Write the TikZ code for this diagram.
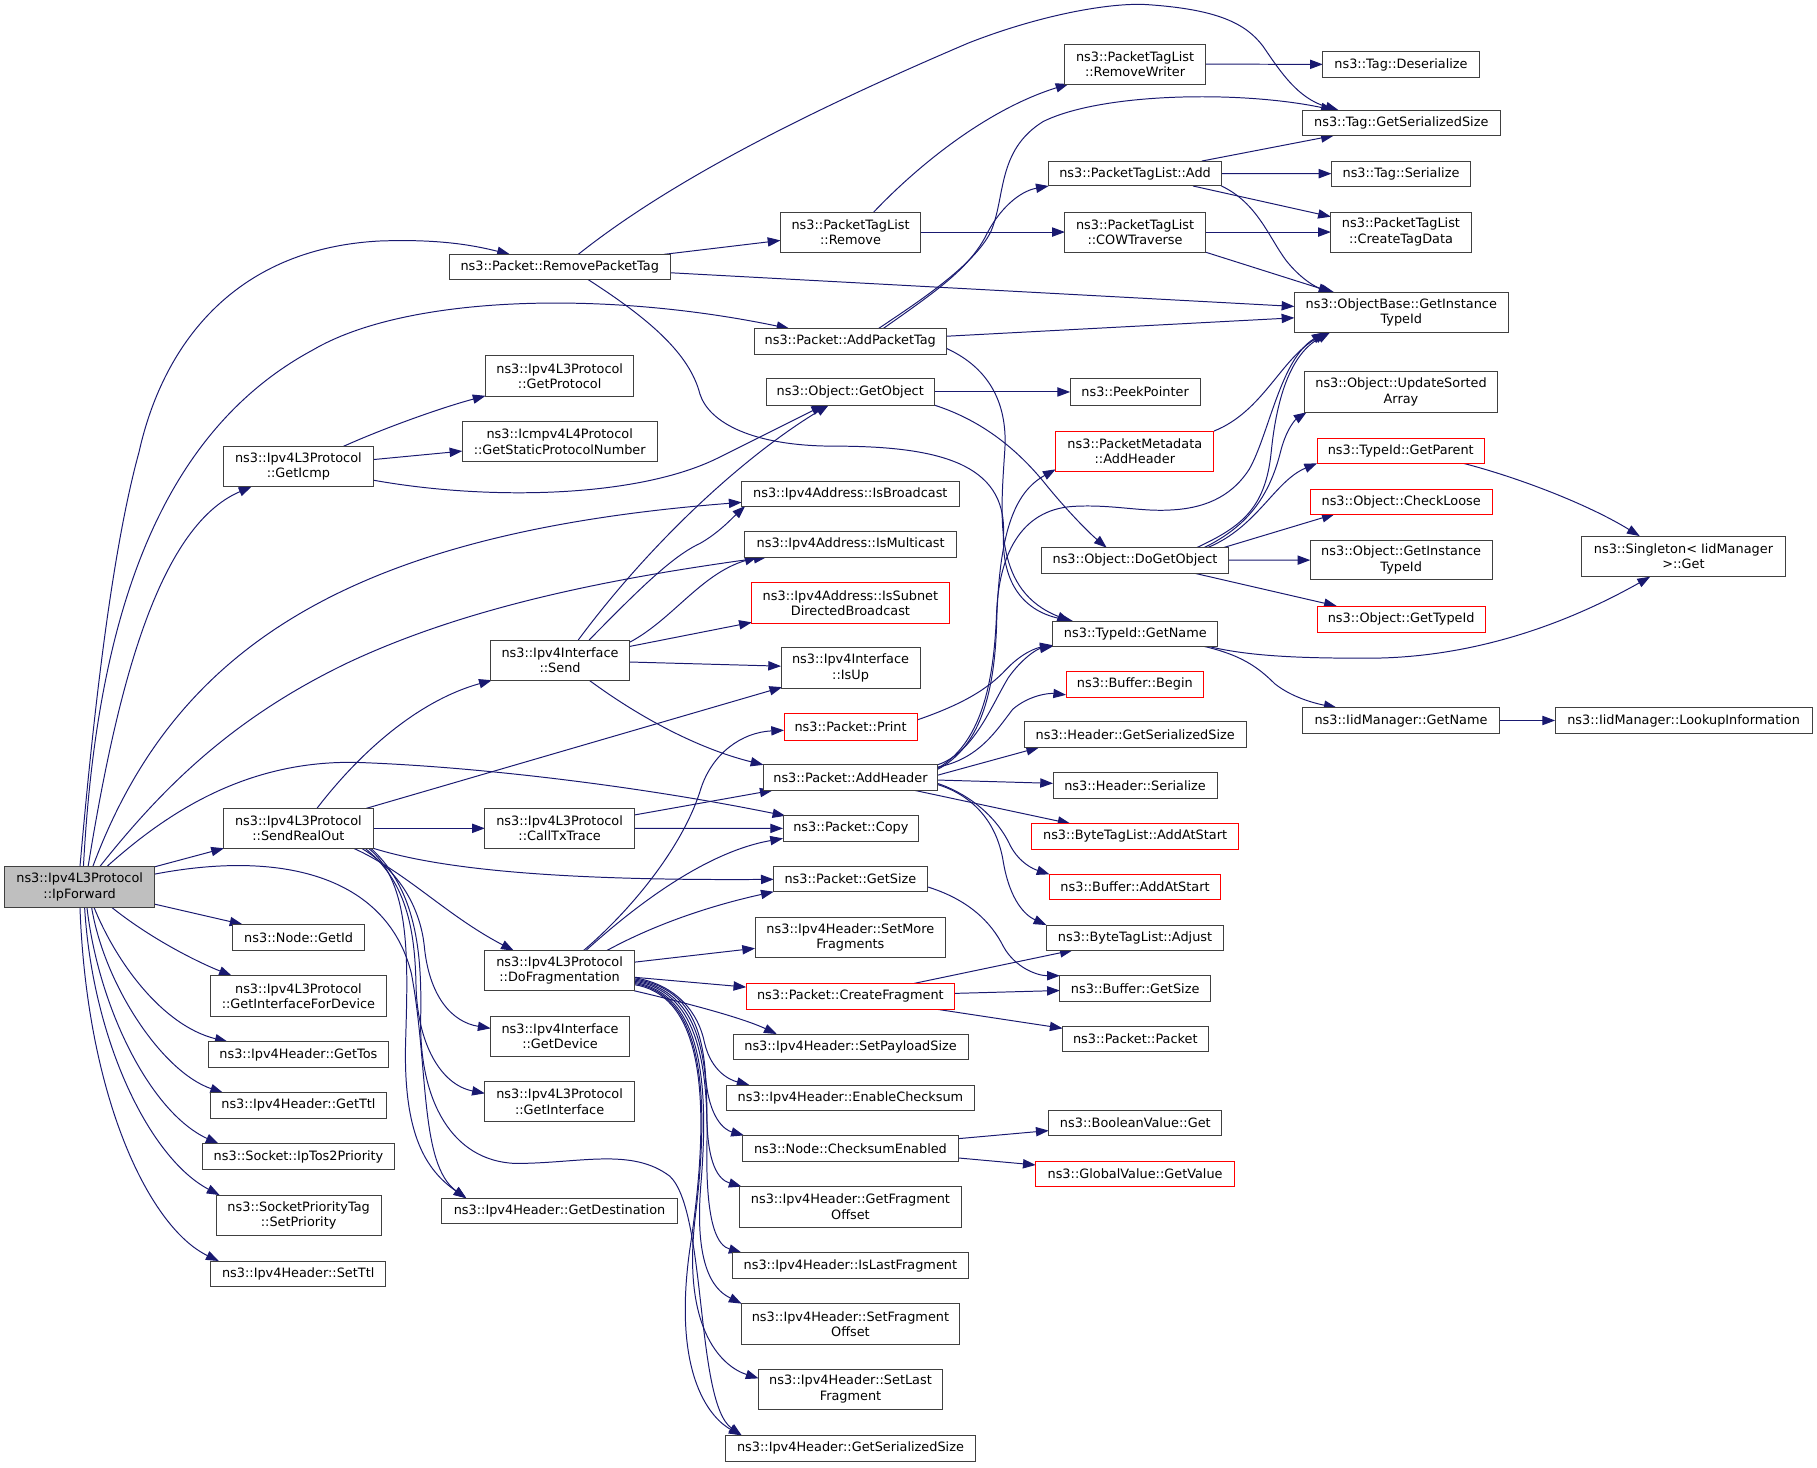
\documentclass[tikz,border=0pt]{standalone}
\usepackage{fontspec}
\setmainfont{DejaVu Sans}
\usetikzlibrary{arrows.meta,calc}
\definecolor{edgec}{HTML}{191970}
\definecolor{bordc}{HTML}{404040}
\definecolor{grayfill}{HTML}{BFBFBF}
\pgfdeclarelayer{back}
\pgfdeclarelayer{edges}
\pgfsetlayers{back,edges,main}
\newcommand{\gfont}{\fontsize{11.1}{13.3}\selectfont}
\newcommand{\fnbox}[7][]{%
  \pgfmathsetmacro{\fbcx}{(#3+#5)/2}%
  \pgfmathsetmacro{\fbcy}{(#4+#6)/2}%
  \pgfmathsetmacro{\fbw}{#5-#3}%
  \pgfmathsetmacro{\fbh}{#6-#4}%
  \node[fn,#1,minimum width=\fbw pt,minimum height=\fbh pt] (#2) at (\fbcx,\fbcy) {#7};%
}
\begin{document}
\begin{tikzpicture}[x=1pt,y=-1pt,
  fn/.style={draw=bordc,line width=0.85pt,fill=white,inner sep=0pt,outer sep=0pt,align=center,font=\gfont,text=black},
  rd/.style={draw=red},
  gr/.style={fill=grayfill},
  e/.style={draw=edgec,line width=0.85pt,-{Triangle[length=11pt,width=8pt]}}]
\begin{pgfonlayer}{back}
\fill[white] (0,0) rectangle (1568,1266);
\end{pgfonlayer}
\useasboundingbox (0,0) rectangle (1568,1266);
% ---------------- nodes ----------------
\fnbox[gr]{ipf}{4.2}{748}{133.3}{782.7}{ns3::Ipv4L3Protocol\\::IpForward}
\fnbox{rpt}{387.5}{219.5}{578.6}{241}{ns3::Packet::RemovePacketTag}
\fnbox{gprot}{419}{307}{547}{342}{ns3::Ipv4L3Protocol\\::GetProtocol}
\fnbox{gspn}{399}{364}{567}{398.6}{ns3::Icmpv4L4Protocol\\::GetStaticProtocolNumber}
\fnbox{gicmp}{193}{385.5}{322}{420}{ns3::Ipv4L3Protocol\\::GetIcmp}
\fnbox{rw}{919}{38}{1040}{72.5}{ns3::PacketTagList\\::RemoveWriter}
\fnbox{tdes}{1141.5}{44.6}{1276.5}{66.7}{ns3::Tag::Deserialize}
\fnbox{tgss}{1124}{95}{1294.5}{117}{ns3::Tag::GetSerializedSize}
\fnbox{ptladd}{905}{139}{1054}{160.5}{ns3::PacketTagList::Add}
\fnbox{tser}{1149}{139}{1269}{160.8}{ns3::Tag::Serialize}
\fnbox{ptlrem}{673.5}{183}{794.5}{217.5}{ns3::PacketTagList\\::Remove}
\fnbox{cow}{919}{183}{1040}{217.5}{ns3::PacketTagList\\::COWTraverse}
\fnbox{ctd}{1148.5}{183}{1269.5}{217.5}{ns3::PacketTagList\\::CreateTagData}
\fnbox{obgit}{1117}{252}{1301.5}{286.8}{ns3::ObjectBase::GetInstance\\TypeId}
\fnbox{apt}{651}{283.6}{816.5}{305.5}{ns3::Packet::AddPacketTag}
\fnbox{gobj}{661.5}{327}{806}{349.5}{ns3::Object::GetObject}
\fnbox{peek}{923.5}{327}{1035.6}{349.5}{ns3::PeekPointer}
\fnbox{usa}{1126}{321}{1292}{355.8}{ns3::Object::UpdateSorted\\Array}
\fnbox[rd]{pmah}{911}{372}{1047.6}{406.5}{ns3::PacketMetadata\\::AddHeader}
\fnbox[rd]{gpar}{1136.6}{378}{1281}{399.8}{ns3::TypeId::GetParent}
\fnbox{isb}{640}{415.7}{827.6}{436.7}{ns3::Ipv4Address::IsBroadcast}
\fnbox[rd]{chl}{1130.7}{422}{1287.6}{443.7}{ns3::Object::CheckLoose}
\fnbox{ism}{642.6}{458.8}{825.6}{480.7}{ns3::Ipv4Address::IsMulticast}
\fnbox{ogit}{1130.7}{466}{1287.6}{500.5}{ns3::Object::GetInstance\\TypeId}
\fnbox{sing}{1365}{462.6}{1540.5}{497.7}{ns3::Singleton< IidManager\\>::Get}
\fnbox{dgo}{899}{472.6}{1060}{494.5}{ns3::Object::DoGetObject}
\fnbox[rd]{isd}{648.8}{503}{819}{537.7}{ns3::Ipv4Address::IsSubnet\\DirectedBroadcast}
\fnbox[rd]{gtid}{1136.6}{523}{1281.7}{545.4}{ns3::Object::GetTypeId}
\fnbox{gname}{908.5}{536}{1051}{557.8}{ns3::TypeId::GetName}
\fnbox{send}{423.4}{552.3}{543.2}{587}{ns3::Ipv4Interface\\::Send}
\fnbox{isup}{674}{559}{794}{594}{ns3::Ipv4Interface\\::IsUp}
\fnbox[rd]{bbeg}{920}{579.7}{1038.6}{601.5}{ns3::Buffer::Begin}
\fnbox{iidgn}{1124}{610.7}{1294}{632.8}{ns3::IidManager::GetName}
\fnbox{iidli}{1342}{610.7}{1563.7}{632.8}{ns3::IidManager::LookupInformation}
\fnbox[rd]{print}{676.6}{616}{791.4}{638.6}{ns3::Packet::Print}
\fnbox{hgss}{883.7}{623}{1075.6}{645}{ns3::Header::GetSerializedSize}
\fnbox{addh}{658.8}{660}{809}{682}{ns3::Packet::AddHeader}
\fnbox{hser}{908.7}{667}{1050.3}{689}{ns3::Header::Serialize}
\fnbox{sro}{193}{697.6}{322}{732}{ns3::Ipv4L3Protocol\\::SendRealOut}
\fnbox{ctt}{418.4}{697.6}{547.4}{732}{ns3::Ipv4L3Protocol\\::CallTxTrace}
\fnbox{copy}{675.7}{704}{792.8}{725.8}{ns3::Packet::Copy}
\fnbox[rd]{btlas}{890.4}{710.8}{1068.7}{732.7}{ns3::ByteTagList::AddAtStart}
\fnbox{gsize}{667.7}{747.4}{800}{769.5}{ns3::Packet::GetSize}
\fnbox[rd]{bas}{905.7}{754.5}{1053.3}{776.4}{ns3::Buffer::AddAtStart}
\fnbox{smf}{651.6}{791.4}{816}{826.5}{ns3::Ipv4Header::SetMore\\Fragments}
\fnbox{getid}{201}{797.7}{314.4}{820}{ns3::Node::GetId}
\fnbox{btladj}{903}{798.3}{1056}{820}{ns3::ByteTagList::Adjust}
\fnbox{dofrag}{418.4}{820.4}{547.4}{855}{ns3::Ipv4L3Protocol\\::DoFragmentation}
\fnbox{gifd}{181.5}{842}{333.6}{877}{ns3::Ipv4L3Protocol\\::GetInterfaceForDevice}
\fnbox{bgs}{914.6}{842}{1044.6}{864}{ns3::Buffer::GetSize}
\fnbox[rd]{cfrag}{644}{848.6}{823.7}{870.8}{ns3::Packet::CreateFragment}
\fnbox{gdev}{423.4}{877}{543.2}{911.6}{ns3::Ipv4Interface\\::GetDevice}
\fnbox{pkt}{917}{885.4}{1042.5}{907.3}{ns3::Packet::Packet}
\fnbox{sps}{632.6}{892.3}{835.4}{914.5}{ns3::Ipv4Header::SetPayloadSize}
\fnbox{gtos}{180}{899}{335}{921.4}{ns3::Ipv4Header::GetTos}
\fnbox{gif}{418.4}{933.2}{547.4}{968}{ns3::Ipv4L3Protocol\\::GetInterface}
\fnbox{ecs}{626.8}{936.4}{841}{958.2}{ns3::Ipv4Header::EnableChecksum}
\fnbox{gttl}{181.5}{943}{333.6}{964.8}{ns3::Ipv4Header::GetTtl}
\fnbox{bvg}{905}{958}{1054.5}{980}{ns3::BooleanValue::Get}
\fnbox{cse}{641}{979.8}{826.8}{1002}{ns3::Node::ChecksumEnabled}
\fnbox{tos2}{174.6}{987}{340.6}{1009}{ns3::Socket::IpTos2Priority}
\fnbox[rd]{gvgv}{893.8}{1002}{1065.3}{1024}{ns3::GlobalValue::GetValue}
\fnbox{gfo}{638.4}{1024}{829.4}{1059}{ns3::Ipv4Header::GetFragment\\Offset}
\fnbox{spt}{186.5}{1031.3}{328.9}{1066}{ns3::SocketPriorityTag\\::SetPriority}
\fnbox{gdst}{381.4}{1034}{584.3}{1056}{ns3::Ipv4Header::GetDestination}
\fnbox{ilf}{631.7}{1081}{836}{1103.2}{ns3::Ipv4Header::IsLastFragment}
\fnbox{sttl}{181.8}{1088.2}{332.9}{1110}{ns3::Ipv4Header::SetTtl}
\fnbox{sfo}{639.5}{1125}{828.3}{1160}{ns3::Ipv4Header::SetFragment\\Offset}
\fnbox{slf}{654.6}{1181.5}{813.3}{1216}{ns3::Ipv4Header::SetLast\\Fragment}
\fnbox{ihgss}{625.7}{1238.7}{842.2}{1260.8}{ns3::Ipv4Header::GetSerializedSize}
% ---------------- edges ----------------
\begin{pgfonlayer}{edges}
% IpForward
\draw[e] ($(ipf.north west)+(64.8,0)$) .. controls (82,600) and (98,470) .. (120,390) .. controls (140,300) and (200,215) .. (327,208) .. controls (380,206) and (410,212) .. (rpt);
\draw[e] ($(ipf.north west)+(67.8,0)$) .. controls (82,560) and (125,380) .. (270,302) .. controls (350,255) and (520,250) .. (apt);
\draw[e] ($(ipf.north west)+(71.8,0)$) .. controls (100,600) and (135,455) .. (gicmp);
\draw[e] ($(ipf.north west)+(75.8,0)$) .. controls (150,560) and (300,460) .. (isb);
\draw[e] ($(ipf.north west)+(81.8,0)$) .. controls (140,680) and (200,620) .. (300,572) .. controls (400,525) and (520,500) .. ($(ism.south west)+(19,0)$);
\draw[e] ($(ipf.north west)+(87.8,0)$) .. controls (140,705) and (210,655) .. (310,658) .. controls (420,662) and (560,680) .. ($(copy.north west)+(2,0)$);
\draw[e] (ipf) -- (sro);
\draw[e] ($(ipf.east)+(0,-11)$) .. controls (250,732) and (335,760) .. (355,840) .. controls (370,920) and (362,1005) .. ($(gdst.north west)+(21,0)$);
\draw[e] (ipf) -- (getid);
\draw[e] ($(ipf.south west)+(91.8,0)$) .. controls (130,810) and (170,830) .. ($(gifd.north west)+(18.5,0)$);
\draw[e] ($(ipf.south west)+(76.8,0)$) .. controls (100,830) and (140,885) .. ($(gtos.north west)+(16.5,0)$);
\draw[e] ($(ipf.south west)+(74.8,0)$) .. controls (90,850) and (140,925) .. ($(gttl.north west)+(11,0)$);
\draw[e] ($(ipf.south west)+(70.8,0)$) .. controls (85,870) and (130,960) .. ($(tos2.north west)+(14,0)$);
\draw[e] ($(ipf.south west)+(68.8,0)$) .. controls (80,900) and (130,1000) .. ($(spt.north west)+(3,0)$);
\draw[e] ($(ipf.south west)+(64.8,0)$) .. controls (75,950) and (130,1060) .. ($(sttl.north west)+(7,0)$);
% GetIcmp
\draw[e] (gicmp) .. controls (330,370) and (380,352) .. (gprot);
\draw[e] (gicmp) -- (gspn);
\draw[e] (gicmp) .. controls (420,432) and (550,430) .. (620,395) .. controls (660,375) and (690,360) .. (gobj);
% Send
\draw[e] ($(send.north west)+(75.6,0)$) .. controls (560,470) and (640,395) .. (gobj);
\draw[e] ($(send.north west)+(85,0)$) .. controls (550,510) and (580,480) .. (604,469) .. controls (620,460) and (632,447) .. ($(isb.south west)+(3,0)$);
\draw[e] ($(send.north east)+(0,2)$) .. controls (580,535) and (605,495) .. ($(ism.south west)+(11,0)$);
\draw[e] (send) -- (isd);
\draw[e] (send) -- (isup);
\draw[e] ($(send.south west)+(85,0)$) .. controls (560,625) and (610,648) .. (addh.north west);
% SendRealOut
\draw[e] ($(sro.north west)+(80.5,0)$) .. controls (310,650) and (360,605) .. ($(send.south west)+(1,0)$);
\draw[e] ($(sro.north east)+(-6,0)$) -- ($(isup.south west)+(1,-1)$);
\draw[e] (sro) -- (ctt);
\draw[e] (sro.south east) .. controls (380,750) and (480,760) .. (gsize);
\draw[e] ($(sro.south east)+(-17,0)$) .. controls (350,752) and (385,790) .. ($(dofrag.north west)+(25,0)$);
\draw[e] ($(sro.south east)+(-10,0)$) .. controls (350,755) and (363,790) .. (366,815) .. controls (370,860) and (390,882) .. ($(gdev.north west)+(0,10.4)$);
\draw[e] ($(sro.south east)+(-7,0)$) .. controls (350,760) and (358,800) .. (359,850) .. controls (360,900) and (380,936) .. ($(gif.north west)+(0,10.3)$);
\draw[e] ($(sro.south east)+(-4,0)$) .. controls (355,762) and (352,830) .. (350,900) .. controls (348,980) and (368,1010) .. ($(gdst.north west)+(21,0)$);
\draw[e] ($(sro.south east)+(-2,0)$) .. controls (362,770) and (364,830) .. (363,880) .. controls (362,950) and (390,1002) .. (445,1004) .. controls (500,1004) and (545,990) .. (578,1015) .. controls (610,1045) and (600,1210) .. ($(ihgss.north west)+(14.3,0)$);
% CallTxTrace
\draw[e] ($(ctt.north east)+(0,5.7)$) -- ($(addh.south west)+(8,0)$);
\draw[e] (ctt) -- (copy);
% DoFragmentation
\draw[e] ($(dofrag.north west)+(85,0)$) .. controls (545,785) and (590,730) .. (605,680) .. controls (615,650) and (640,632) .. (print);
\draw[e] ($(dofrag.north west)+(87,0)$) .. controls (550,780) and (610,735) .. ($(copy.south west)+(0,-2.3)$);
\draw[e] ($(dofrag.north west)+(105,0)$) .. controls (570,795) and (620,780) .. (gsize.south west);
\draw[e] (dofrag) -- (smf);
\draw[e] (dofrag) -- (cfrag);
\draw[e] (dofrag.south east) .. controls (590,865) and (640,878) .. ($(sps.north west)+(37.7,0)$);
\draw[e] ($(dofrag.east)+(0,6)$) .. controls (585,850) and (603,875) .. (608,900) .. controls (614,925) and (630,932) .. ($(ecs.north west)+(20,0)$);
\draw[e] ($(dofrag.east)+(0,7)$) .. controls (590,852) and (606,880) .. (609,930) .. controls (612,965) and (625,975) .. ($(cse.north west)+(1,0)$);
\draw[e] ($(dofrag.east)+(0,8)$) .. controls (592,853) and (610,890) .. (610,960) .. controls (610,1005) and (620,1018) .. ($(gfo.north west)+(1.6,0)$);
\draw[e] ($(dofrag.east)+(0,9)$) .. controls (594,854) and (612,900) .. (610,990) .. controls (609,1060) and (620,1075) .. ($(ilf.north west)+(8.3,0)$);
\draw[e] ($(dofrag.east)+(0,10)$) .. controls (596,856) and (614,910) .. (605,1020) .. controls (598,1100) and (620,1115) .. ($(sfo.north west)+(0.5,0)$);
\draw[e] ($(dofrag.east)+(0,11)$) .. controls (598,857) and (616,920) .. (600,1050) .. controls (588,1150) and (625,1180) .. ($(slf.west)+(0,-9.3)$);
\draw[e] ($(dofrag.east)+(0,12)$) .. controls (600,858) and (618,930) .. (595,1080) .. controls (580,1190) and (615,1225) .. ($(ihgss.north west)+(14.3,0)$);
% RemovePacketTag
\draw[e] ($(rpt.north west)+(111.5,0)$) .. controls (580,155) and (700,95) .. (836,37) .. controls (900,12) and (960,2) .. (990,4) .. controls (1050,8) and (1075,20) .. (1090,40) .. controls (1105,62) and (1120,85) .. ($(tgss.north west)+(31,0)$);
\draw[e] (rpt) -- (ptlrem);
\draw[e] (rpt) -- (obgit);
\draw[e] ($(rpt.south west)+(119.6,0)$) .. controls (560,275) and (595,305) .. (604,340) .. controls (612,365) and (650,385) .. (720,385) .. controls (810,385) and (868,400) .. (866,460) .. controls (864,505) and (885,528) .. ($(gname.north west)+(17.5,0)$);
% AddPacketTag
\draw[e] ($(apt.north west)+(107,0)$) .. controls (790,262) and (840,230) .. (855,200) .. controls (868,170) and (860,130) .. (900,105) .. controls (950,80) and (1070,78) .. ($(tgss.north west)+(27,0)$);
\draw[e] ($(apt.north west)+(111,0)$) .. controls (810,250) and (835,232) .. (850,205) .. controls (862,180) and (880,165) .. (ptladd.south west);
\draw[e] (apt) -- (obgit);
\draw[e] ($(apt.east)+(0,6)$) .. controls (855,318) and (870,350) .. (867,390) .. controls (863,450) and (858,510) .. ($(gname.north west)+(15,0)$);
% PacketTagList
\draw[e] ($(ptlrem.north west)+(80.5,0)$) .. controls (790,145) and (850,95) .. ($(rw.south west)+(3,0)$);
\draw[e] (ptlrem) -- (cow);
\draw[e] (rw) -- (tdes);
\draw[e] ($(ptladd.north east)+(-17,0)$) -- ($(tgss.south west)+(27,0)$);
\draw[e] (ptladd) -- (tser);
\draw[e] ($(ptladd.south east)+(-24.5,0)$) -- ($(ctd.north west)+(0,4)$);
\draw[e] (ptladd.south east) .. controls (1085,175) and (1095,205) .. (1110,225) .. controls (1122,240) and (1135,248) .. ($(obgit.north west)+(34,0)$);
\draw[e] (cow) -- (ctd);
\draw[e] (cow.south east) -- ($(obgit.north west)+(32,0)$);
% GetObject
\draw[e] (gobj) -- (peek);
\draw[e] (gobj.south east) .. controls (845,362) and (875,385) .. (900,415) .. controls (920,440) and (940,460) .. ($(dgo.north west)+(56,0)$);
% TypeId::GetName and others
\draw[e] ($(gname.south east)+(-12,0)$) .. controls (1070,565) and (1085,575) .. (1100,590) .. controls (1115,602) and (1135,607) .. ($(iidgn.north west)+(29.5,0)$);
\draw[e] ($(gname.south east)+(-8,0)$) .. controls (1080,567) and (1130,568) .. (1180,568) .. controls (1260,568) and (1340,545) .. ($(sing.south west)+(59,0)$);
\draw[e] ($(gpar.south east)+(-18.3,0)$) .. controls (1310,412) and (1370,435) .. ($(sing.north west)+(50,0)$);
\draw[e] (iidgn) -- (iidli);
% DoGetObject
\draw[e] ($(dgo.north east)+(-27.3,0)$) .. controls (1070,455) and (1092,440) .. (1097,390) .. controls (1102,340) and (1115,305) .. ($(obgit.south west)+(30.8,0)$);
\draw[e] ($(dgo.north east)+(-21,0)$) .. controls (1075,455) and (1095,430) .. (1105,390) .. controls (1110,370) and (1118,362) .. ($(usa.south west)+(1.5,0)$);
\draw[e] ($(dgo.north east)+(-18,0)$) .. controls (1085,455) and (1100,415) .. (gpar.south west);
\draw[e] ($(dgo.north east)+(-4.3,0)$) -- ($(chl.south west)+(21,0)$);
\draw[e] (dgo) -- (ogit);
\draw[e] ($(dgo.south east)+(-30,0)$) -- ($(gtid.north west)+(17,0)$);
% PacketMetadata
\draw[e] (pmah.north east) .. controls (1090,355) and (1105,310) .. ($(obgit.south west)+(28,0)$);
% Packet::AddHeader
\draw[e] ($(addh.east)+(0,-7)$) .. controls (845,645) and (858,600) .. (860,540) .. controls (862,460) and (875,425) .. ($(pmah.south west)+(0,-1.5)$);
\draw[e] ($(addh.east)+(0,-8)$) .. controls (850,640) and (858,580) .. (860,529) .. controls (862,480) and (880,440) .. (926,437) .. controls (960,435) and (985,442) .. (1012,440) .. controls (1045,438) and (1065,425) .. (1078,405) .. controls (1095,375) and (1105,310) .. ($(obgit.south west)+(26,0)$);
\draw[e] (addh.north east) .. controls (840,650) and (855,610) .. (870,585) .. controls (882,568) and (895,560) .. (gname.south west);
\draw[e] ($(addh.north east)+(0,2)$) .. controls (845,655) and (860,630) .. (874,612) .. controls (888,600) and (905,598) .. ($(bbeg.west)+(0,9)$);
\draw[e] ($(addh.east)+(0,-2)$) -- ($(hgss.south west)+(13,0)$);
\draw[e] (addh) -- (hser);
\draw[e] ($(addh.south east)+(-20,0)$) -- ($(btlas.north west)+(33.4,0)$);
\draw[e] ($(addh.east)+(0,5)$) .. controls (830,683) and (858,700) .. (872,730) .. controls (880,745) and (892,750) .. (bas.north west);
\draw[e] ($(addh.east)+(0,6)$) .. controls (835,685) and (860,705) .. (866,745) .. controls (872,778) and (885,790) .. (btladj.north west);
% Print
\draw[e] ($(print.east)+(0,-6)$) .. controls (830,608) and (852,595) .. (868,578) .. controls (882,563) and (895,559) .. ($(gname.south west)+(0,-1)$);
% GetSize
\draw[e] ($(gsize.east)+(0,6.75)$) .. controls (835,776) and (855,795) .. (866,817) .. controls (876,835) and (895,842) .. (bgs.north west);
% CreateFragment
\draw[e] ($(cfrag.north west)+(145,0)$) -- ($(btladj.south west)+(22.7,0)$);
\draw[e] (cfrag) -- (bgs);
\draw[e] ($(cfrag.south east)+(-16.2,0)$) -- ($(pkt.north west)+(0,2)$);
% ChecksumEnabled
\draw[e] (cse) -- (bvg);
\draw[e] (cse) -- (gvgv);
\end{pgfonlayer}
\end{tikzpicture}
\end{document}
